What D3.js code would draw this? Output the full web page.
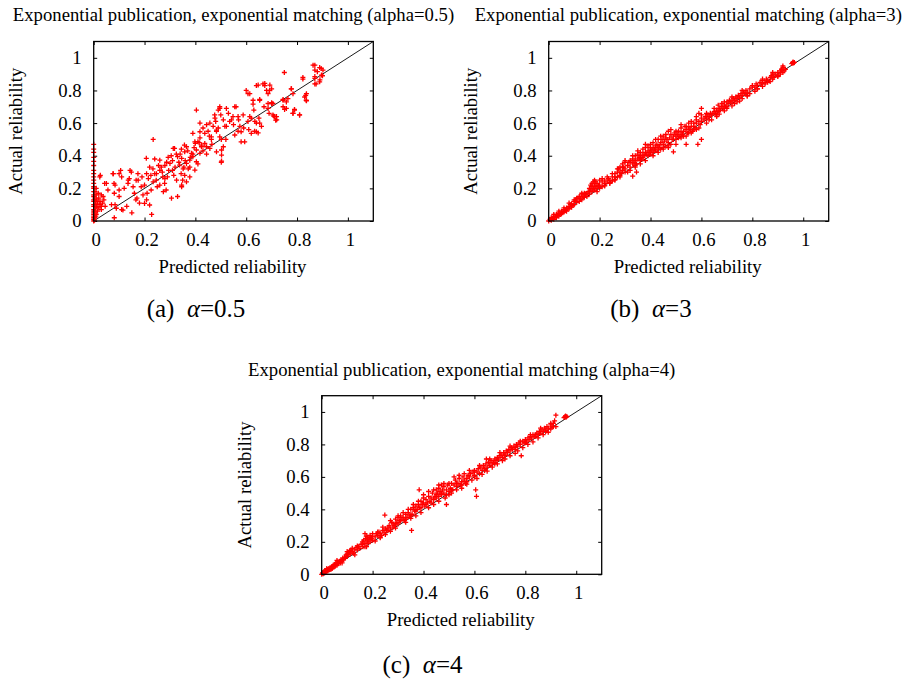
<!DOCTYPE html>
<html><head><meta charset="utf-8">
<script src="https://cdn.jsdelivr.net/npm/d3@7"></script>
<style>
body{margin:0;background:#fff}
text{font-family:"Liberation Serif","Times New Roman",serif;fill:#000}
</style>
</head><body>
<svg id="chart" width="909" height="681"></svg>
<script>
// ---------- data ----------
const tickValues = [0, 0.2, 0.4, 0.6, 0.8, 1];
const tickLabels = ["0", "0.2", "0.4", "0.6", "0.8", "1"];
const axisDomain = [0, 1.1];
const xLabel = "Predicted reliability";
const yLabel = "Actual reliability";
const titles = [
  "Exponential publication, exponential matching (alpha=0.5)",
  "Exponential publication, exponential matching (alpha=3)",
  "Exponential publication, exponential matching (alpha=4)"
];
const captionLetters = ["(a)", "(b)", "(c)"];
const captionValues = ["=0.5", "=3", "=4"];

// [predicted, actual]
const pointsAlpha05 = [
[0,0.47],[0,0.44],[0,0.42],[0,0.39],[0,0.365],[0,0.34],[0,0.31],[0,0.29],[0,0.27],[0,0.25],[0,0.23],[0,0.21],[0,0.2],[0,0.18],[0,0.16],[0,0.15],[0,0.13],[0,0.12],[0,0.1],[0,0.09],[0,0.07],[0,0.06],[0,0.05],[0,0.04],[0,0.03],[0,0.02],[0,0.01],[0,0],
[0.003,0.005],[0.005,0.02],[0.005,0.06],[0.005,0.1],[0.005,0.14],[0.005,0.18],[0.008,0.03],[0.008,0.08],[0.008,0.12],[0.01,0.04],[0.01,0.16],[0.01,0.2],[0.012,0.09],[0.012,0.13],[0.015,0.06],[0.015,0.11],[0.018,0.17],[0.02,0.08],[0.02,0.14],[0.025,0.1],[0.025,0.12],[0.03,0.07],[0.03,0.16],[0.035,0.11],[0.04,0.13],[0.045,0.09],
[0.026,0.28],[0.05,0.23],[0.077,0.29],[0.084,0.22],[0.081,0.17],[0.084,0.10],[0.081,0.02],[0.10,0.29],[0.106,0.31],[0.10,0.15],[0.11,0.07],[0.136,0.25],[0.143,0.31],[0.15,0.05],[0.16,0.17],[0.166,0.13],[0.175,0.25],[0.18,0.11],[0.20,0.22],[0.208,0.29],[0.208,0.13],[0.228,0.04],[0.234,0.50],[0.24,0.38],[0.234,0.24],[0.247,0.29],[0.26,0.31],[0.26,0.22],[0.274,0.18],[0.28,0.26],[0.287,0.36],[0.293,0.39],[0.306,0.14],[0.313,0.445],[0.32,0.33],[0.326,0.25],[0.34,0.41],[0.346,0.22],[0.36,0.37],[0.365,0.455],[0.378,0.33],[0.39,0.41],[0.398,0.485],[0.404,0.68],[0.41,0.35],[0.418,0.51],[0.424,0.455],[0.43,0.57],[0.437,0.475],[0.444,0.41],[0.45,0.55],[0.457,0.60],[0.463,0.50],[0.47,0.58],[0.477,0.63],[0.483,0.55],[0.49,0.68],[0.496,0.70],[0.502,0.36],[0.502,0.50],[0.51,0.455],[0.516,0.58],[0.522,0.69],[0.535,0.61],[0.548,0.64],[0.56,0.70],[0.568,0.55],[0.575,0.58],[0.58,0.485],[0.588,0.65],[0.594,0.485],[0.60,0.80],[0.607,0.78],[0.607,0.61],[0.62,0.63],[0.627,0.74],[0.633,0.55],[0.64,0.83],[0.64,0.60],[0.647,0.54],[0.653,0.74],[0.66,0.58],[0.666,0.84],[0.673,0.83],[0.68,0.80],[0.686,0.69],[0.692,0.80],[0.70,0.72],[0.712,0.64],[0.72,0.62],[0.745,0.74],[0.75,0.91],[0.758,0.69],[0.777,0.81],[0.784,0.66],[0.79,0.68],[0.81,0.65],[0.823,0.87],[0.834,0.77],[0.836,0.74],[0.863,0.955],[0.87,0.885],[0.875,0.84],[0.88,0.915],[0.89,0.865],[0.895,0.935],[0.90,0.89],
[0.024,0.27],[0.043,0.23],[0.076,0.29],[0.11,0.27],[0.08,0.23],[0.10,0.19],[0.056,0.19],[0.037,0.15],[0.03,0.09],[0.07,0.10],[0.089,0.078],[0.115,0.067],[0.135,0.23],[0.14,0.26],[0.148,0.30],[0.167,0.25],[0.174,0.29],[0.187,0.21],[0.194,0.16],[0.20,0.108],[0.207,0.384],[0.22,0.33],[0.233,0.32],[0.24,0.29],[0.246,0.25],[0.226,0.19],[0.22,0.098],[0.26,0.373],[0.266,0.33],[0.272,0.27],[0.279,0.23],[0.285,0.19],[0.305,0.40],[0.30,0.353],[0.31,0.31],[0.318,0.445],[0.33,0.394],[0.338,0.343],[0.344,0.29],[0.35,0.25],[0.357,0.465],[0.33,0.15],[0.29,0.27],
[0.476,0.65],[0.50,0.65],[0.418,0.60],[0.444,0.59],[0.483,0.557],[0.51,0.62],[0.522,0.58],[0.542,0.62],[0.568,0.64],[0.614,0.64],[0.634,0.61],[0.653,0.60],[0.64,0.547],[0.62,0.537],[0.58,0.547],[0.555,0.527],[0.496,0.516],[0.463,0.516],[0.437,0.537],[0.418,0.547],[0.39,0.537],[0.41,0.486],[0.40,0.476],[0.424,0.465],[0.444,0.455],[0.457,0.445],[0.483,0.424],[0.503,0.435],[0.503,0.404],[0.503,0.367],[0.358,0.424],[0.385,0.415],[0.404,0.435],[0.39,0.394],[0.378,0.373],[0.404,0.363],[0.365,0.353],[0.346,0.384],[0.352,0.32],[0.372,0.32],[0.398,0.312],[0.358,0.28],[0.378,0.27],[0.365,0.24],[0.346,0.21],[0.418,0.415],[0.555,0.70],[0.627,0.716],[0.686,0.72],[0.705,0.72],[0.719,0.64],[0.705,0.65],
[0.823,0.88],[0.87,0.955],[0.889,0.94],[0.902,0.925],[0.87,0.925],[0.896,0.894],[0.87,0.874],[0.889,0.853],[0.87,0.84],[0.693,0.833],[0.70,0.81],[0.778,0.81],[0.784,0.78],[0.837,0.78],[0.83,0.76],[0.837,0.737],[0.745,0.745],[0.764,0.75],[0.758,0.73],[0.70,0.725],[0.745,0.70],[0.751,0.684],[0.79,0.684],[0.784,0.66],[0.81,0.65],[0.708,0.643],[0.716,0.618],
[0.614,0.78],[0.647,0.833],[0.673,0.843],[0.686,0.78],[0.653,0.745],[0.496,0.69],
[0.12,0.2],[0.13,0.09],[0.155,0.21],[0.17,0.14],[0.19,0.27],[0.21,0.17],[0.215,0.26],[0.225,0.28],[0.25,0.21],[0.255,0.34],[0.27,0.3],[0.28,0.34],[0.295,0.31],[0.31,0.37],[0.315,0.28],[0.325,0.41],[0.335,0.36],[0.345,0.44],[0.355,0.33],[0.37,0.43],[0.38,0.39],[0.395,0.45],[0.415,0.48],[0.43,0.43],[0.455,0.52],[0.465,0.47],[0.48,0.61],[0.49,0.57],[0.52,0.5],[0.53,0.66],[0.55,0.59],[0.57,0.62],[0.59,0.57],[0.61,0.56],[0.63,0.68],[0.65,0.63],[0.67,0.7],[0.69,0.66]
];

const pointsAlpha3 = [
[0,0],[0.005,0.01],[0.01,0.02],[0.01,0.005],[0.015,0.015],[0.02,0.03],[0.02,0.01],[0.025,0.025],[0.03,0.04],[0.03,0.02],[0.035,0.035],[0.04,0.05],[0.04,0.03],[0.045,0.04],[0.05,0.06],[0.05,0.045],[0.055,0.05],[0.06,0.07],[0.06,0.055],[0.065,0.065],[0.07,0.08],[0.07,0.06],[0.075,0.075],[0.08,0.09],[0.08,0.075],[0.085,0.1],[0.09,0.085],[0.09,0.105],[0.095,0.095],[0.1,0.12],[0.1,0.1],
[0.105,0.13],[0.11,0.115],[0.115,0.14],[0.12,0.15],[0.12,0.12],[0.125,0.135],[0.13,0.16],[0.13,0.13],[0.135,0.15],[0.14,0.145],[0.145,0.165],[0.15,0.17],[0.15,0.15],[0.155,0.18],[0.16,0.2],[0.16,0.165],[0.165,0.19],[0.17,0.21],[0.17,0.18],[0.175,0.2],[0.18,0.22],[0.18,0.19],[0.185,0.21],[0.19,0.2],[0.19,0.23],[0.195,0.215],[0.2,0.22],[0.2,0.2],[0.18,0.25],[0.175,0.24],
[0.21,0.24],[0.21,0.21],[0.22,0.23],[0.22,0.25],[0.23,0.24],[0.235,0.26],[0.24,0.25],[0.25,0.27],[0.25,0.245],[0.26,0.27],[0.26,0.29],[0.27,0.3],[0.27,0.27],[0.275,0.32],[0.28,0.3],[0.28,0.33],[0.285,0.29],[0.29,0.31],[0.29,0.35],[0.295,0.33],[0.3,0.32],[0.3,0.36],[0.3,0.3],[0.33,0.275],[0.345,0.3],
[0.31,0.34],[0.315,0.36],[0.32,0.33],[0.32,0.37],[0.33,0.35],[0.33,0.38],[0.335,0.36],[0.34,0.37],[0.34,0.4],[0.345,0.35],[0.35,0.38],[0.35,0.41],[0.355,0.39],[0.36,0.4],[0.36,0.42],[0.365,0.38],[0.37,0.41],[0.37,0.44],[0.375,0.4],[0.38,0.42],[0.38,0.45],[0.385,0.41],[0.39,0.43],[0.39,0.46],[0.395,0.42],[0.4,0.44],[0.4,0.41],[0.4,0.47],
[0.405,0.43],[0.41,0.45],[0.41,0.48],[0.415,0.44],[0.42,0.46],[0.42,0.43],[0.425,0.47],[0.43,0.45],[0.43,0.5],[0.435,0.46],[0.44,0.48],[0.44,0.44],[0.445,0.5],[0.45,0.47],[0.45,0.52],[0.455,0.49],[0.46,0.46],[0.46,0.53],[0.465,0.5],[0.47,0.48],[0.47,0.55],[0.475,0.51],[0.48,0.47],[0.48,0.53],[0.485,0.5],[0.49,0.52],[0.49,0.424],[0.495,0.54],[0.5,0.5],[0.5,0.52],[0.5,0.47],
[0.505,0.53],[0.51,0.55],[0.515,0.52],[0.52,0.54],[0.52,0.57],[0.525,0.53],[0.53,0.55],[0.535,0.58],[0.54,0.47],[0.54,0.56],[0.545,0.54],[0.55,0.57],[0.55,0.6],[0.555,0.56],[0.56,0.58],[0.565,0.55],[0.57,0.6],[0.57,0.58],[0.575,0.57],[0.58,0.6],[0.58,0.62],[0.586,0.47],[0.59,0.61],[0.595,0.59],[0.6,0.63],[0.6,0.61],[0.6,0.5],[0.6,0.69],[0.59,0.66],
[0.61,0.62],[0.615,0.64],[0.62,0.63],[0.625,0.65],[0.63,0.64],[0.635,0.66],[0.64,0.65],[0.645,0.66],[0.65,0.67],[0.655,0.66],[0.66,0.68],[0.665,0.67],[0.666,0.71],[0.67,0.69],[0.675,0.68],[0.68,0.7],[0.685,0.69],[0.69,0.73],[0.69,0.71],[0.695,0.7],[0.7,0.73],
[0.705,0.72],[0.71,0.74],[0.715,0.73],[0.72,0.73],[0.725,0.75],[0.73,0.74],[0.735,0.76],[0.74,0.75],[0.745,0.77],[0.75,0.76],[0.755,0.78],[0.76,0.77],[0.765,0.79],[0.77,0.78],[0.775,0.8],[0.78,0.79],[0.79,0.81],[0.8,0.82],
[0.81,0.82],[0.815,0.84],[0.82,0.83],[0.83,0.85],[0.835,0.84],[0.84,0.86],[0.85,0.85],[0.855,0.87],[0.86,0.86],[0.87,0.88],[0.875,0.89],[0.88,0.9],[0.885,0.88],[0.89,0.9],[0.9,0.91],
[0.91,0.92],[0.915,0.93],[0.92,0.91],[0.92,0.94],[0.925,0.92],[0.955,0.965],[0.958,0.97],[0.96,0.975],[0.962,0.968],[0.965,0.972],
[0.02,0.04],[0.04,0.06],[0.06,0.08],[0.08,0.11],[0.1,0.13],[0.11,0.14],[0.13,0.17],[0.14,0.17],[0.16,0.18],[0.165,0.22],[0.17,0.23],[0.185,0.24],[0.19,0.18],[0.2,0.25],[0.21,0.26],[0.22,0.22],[0.23,0.27],[0.24,0.23],[0.25,0.29],[0.26,0.25],[0.27,0.32],[0.28,0.28],[0.29,0.33],[0.3,0.37],[0.31,0.3],[0.32,0.36],[0.33,0.4],[0.34,0.34],[0.35,0.43],[0.36,0.37],[0.37,0.39],[0.38,0.47],[0.39,0.4],[0.4,0.45],[0.41,0.42],[0.42,0.5],[0.43,0.44],[0.44,0.52],[0.45,0.45],[0.46,0.51],[0.47,0.46],[0.48,0.56],[0.49,0.5],[0.5,0.55],[0.51,0.51],[0.52,0.59],[0.53,0.52],[0.54,0.58],[0.55,0.54],[0.56,0.61],[0.57,0.56],[0.58,0.64],[0.59,0.57],[0.6,0.65],[0.62,0.66],[0.63,0.62],[0.65,0.69],[0.66,0.65],[0.68,0.72],[0.7,0.7],[0.72,0.76],[0.74,0.73],[0.76,0.8],[0.78,0.77],[0.8,0.83],[0.82,0.81],[0.84,0.87],[0.86,0.85],[0.88,0.91],[0.9,0.89],[0.92,0.95],[0.93,0.93],
[0.62,0.6],[0.64,0.62],[0.66,0.64],[0.67,0.655],[0.69,0.675],[0.7,0.69],[0.72,0.705],[0.73,0.72],[0.75,0.735],[0.76,0.75],[0.78,0.765],[0.79,0.78],[0.81,0.795],[0.82,0.81],[0.84,0.825],[0.85,0.84],[0.87,0.855],[0.88,0.87],[0.9,0.885],[0.91,0.9],[0.52,0.51],[0.54,0.52],[0.56,0.54],[0.58,0.56],[0.47,0.45],[0.45,0.44],[0.43,0.42],[0.41,0.4],[0.38,0.37],[0.36,0.35],[0.34,0.33],[0.32,0.31],[0.28,0.27],[0.26,0.255],[0.24,0.235],[0.22,0.215]
];

const pointsAlpha4 = [
[0,0],[0.003,0.008],[0.006,0.004],[0.008,0.015],[0.01,0.01],[0.012,0.022],[0.015,0.012],[0.018,0.025],[0.02,0.018],[0.022,0.03],[0.025,0.022],[0.028,0.035],[0.03,0.028],[0.033,0.04],[0.036,0.03],[0.04,0.048],[0.042,0.038],[0.045,0.055],[0.048,0.045],[0.05,0.06],[0.053,0.05],[0.056,0.068],[0.06,0.055],[0.062,0.075],[0.066,0.065],[0.07,0.08],[0.073,0.07],[0.076,0.09],[0.08,0.085],[0.083,0.1],[0.086,0.09],[0.09,0.105],[0.093,0.1],[0.096,0.12],[0.1,0.11],[0.1,0.14],[0.104,0.12],[0.108,0.135],[0.112,0.125],[0.115,0.15],[0.12,0.14],[0.12,0.16],[0.125,0.13],[0.13,0.15],[0.135,0.165],[0.14,0.15],[0.145,0.17],[0.15,0.16],[0.155,0.185],[0.16,0.2],[0.162,0.17],[0.165,0.21],[0.17,0.19],[0.17,0.25],[0.172,0.22],[0.176,0.17],[0.178,0.2],[0.18,0.23],[0.182,0.19],[0.185,0.215],[0.19,0.2],[0.19,0.24],[0.195,0.22],[0.2,0.21],[0.2,0.235],
[0.21,0.23],[0.215,0.25],[0.22,0.24],[0.225,0.26],[0.23,0.25],[0.235,0.24],[0.24,0.27],[0.245,0.26],[0.248,0.365],[0.25,0.28],[0.255,0.27],[0.26,0.29],[0.265,0.3],[0.27,0.28],[0.275,0.32],[0.28,0.31],[0.285,0.3],[0.29,0.34],[0.295,0.32],[0.3,0.35],[0.3,0.31],
[0.305,0.33],[0.31,0.36],[0.315,0.34],[0.32,0.35],[0.325,0.33],[0.33,0.37],[0.335,0.35],[0.34,0.38],[0.345,0.36],[0.35,0.4],[0.353,0.27],[0.355,0.37],[0.36,0.41],[0.365,0.39],[0.37,0.42],[0.375,0.4],[0.38,0.43],[0.383,0.52],[0.385,0.41],[0.39,0.45],[0.395,0.43],[0.4,0.44],[0.4,0.47],
[0.405,0.42],[0.41,0.46],[0.415,0.44],[0.42,0.48],[0.425,0.45],[0.43,0.47],[0.435,0.5],[0.44,0.46],[0.445,0.48],[0.45,0.52],[0.45,0.47],[0.455,0.5],[0.46,0.53],[0.46,0.48],[0.465,0.51],[0.47,0.55],[0.47,0.49],[0.475,0.52],[0.48,0.5],[0.48,0.54],[0.485,0.47],[0.49,0.52],[0.49,0.43],[0.495,0.55],[0.5,0.51],[0.5,0.49],
[0.505,0.53],[0.51,0.56],[0.515,0.52],[0.52,0.55],[0.525,0.58],[0.53,0.54],[0.535,0.56],[0.54,0.59],[0.545,0.55],[0.55,0.57],[0.555,0.6],[0.56,0.58],[0.565,0.56],[0.57,0.59],[0.575,0.61],[0.58,0.6],[0.585,0.62],[0.59,0.58],[0.595,0.63],[0.6,0.61],[0.6,0.64],[0.608,0.48],[0.605,0.52],
[0.61,0.63],[0.615,0.65],[0.62,0.62],[0.625,0.66],[0.63,0.64],[0.635,0.67],[0.64,0.65],[0.645,0.68],[0.647,0.71],[0.65,0.66],[0.655,0.69],[0.66,0.67],[0.665,0.7],[0.67,0.68],[0.675,0.69],[0.68,0.71],[0.685,0.7],[0.69,0.72],[0.695,0.71],[0.7,0.73],
[0.705,0.74],[0.71,0.72],[0.715,0.75],[0.72,0.74],[0.725,0.76],[0.73,0.75],[0.735,0.77],[0.74,0.76],[0.745,0.78],[0.75,0.77],[0.755,0.79],[0.76,0.78],[0.765,0.8],[0.77,0.79],[0.775,0.81],[0.78,0.8],[0.784,0.73],[0.79,0.82],[0.795,0.81],[0.8,0.83],
[0.805,0.82],[0.81,0.84],[0.815,0.83],[0.82,0.85],[0.825,0.84],[0.83,0.86],[0.835,0.85],[0.84,0.86],[0.845,0.87],[0.85,0.86],[0.855,0.88],[0.86,0.87],[0.865,0.89],[0.87,0.88],[0.875,0.9],[0.88,0.89],[0.885,0.91],[0.89,0.9],[0.9,0.92],[0.905,0.91],[0.91,0.93],[0.915,0.945],[0.92,0.98],
[0.952,0.965],[0.955,0.97],[0.958,0.975],[0.96,0.968],[0.963,0.972],
[0.02,0.035],[0.04,0.035],[0.06,0.085],[0.08,0.07],[0.1,0.125],[0.11,0.145],[0.13,0.12],[0.14,0.175],[0.16,0.185],[0.17,0.17],[0.175,0.235],[0.18,0.21],[0.19,0.225],[0.2,0.25],[0.22,0.26],[0.23,0.23],[0.24,0.29],[0.26,0.27],[0.27,0.33],[0.28,0.29],[0.29,0.31],[0.3,0.36],[0.31,0.33],[0.32,0.38],[0.33,0.34],[0.34,0.4],[0.35,0.36],[0.36,0.43],[0.37,0.39],[0.38,0.45],[0.39,0.41],[0.4,0.49],[0.41,0.43],[0.42,0.51],[0.43,0.44],[0.44,0.52],[0.45,0.49],[0.46,0.55],[0.47,0.5],[0.48,0.56],[0.49,0.49],[0.5,0.56],[0.51,0.52],[0.52,0.6],[0.53,0.56],[0.54,0.61],[0.55,0.55],[0.56,0.62],[0.57,0.57],[0.58,0.64],[0.6,0.6],[0.62,0.67],[0.64,0.64],[0.66,0.71],[0.68,0.68],[0.7,0.75],[0.72,0.73],[0.74,0.79],[0.76,0.77],[0.78,0.82],[0.8,0.81],[0.82,0.86],[0.84,0.85],[0.86,0.9],[0.88,0.88],[0.9,0.93],[0.91,0.91],
[0.61,0.59],[0.63,0.615],[0.65,0.635],[0.67,0.66],[0.69,0.68],[0.71,0.7],[0.72,0.71],[0.74,0.73],[0.76,0.745],[0.77,0.76],[0.79,0.78],[0.81,0.8],[0.83,0.815],[0.85,0.84],[0.87,0.86],[0.89,0.875],[0.9,0.895],[0.92,0.91],[0.55,0.53],[0.53,0.52],[0.57,0.555],[0.51,0.5],[0.46,0.45],[0.44,0.43],[0.42,0.41],[0.39,0.38],[0.37,0.36],[0.35,0.345],[0.33,0.32],[0.29,0.285],[0.27,0.265],[0.25,0.245],[0.23,0.225],[0.21,0.205]
];

const panelData = [pointsAlpha05, pointsAlpha3, pointsAlpha4];

// ---------- layout ----------
const layouts = [
  {l: 93.7, r: 373.3, t: 41.5, b: 221, titleX: 233.5, titleY: 21, yLabX: 22, capX: 196, capY: 317},
  {l: 548.7, r: 828.7, t: 41.5, b: 221, titleX: 688.3, titleY: 21, yLabX: 477, capX: 651, capY: 317},
  {l: 321.7, r: 601.7, t: 395.7, b: 574.3, titleX: 461.7, titleY: 375.5, yLabX: 251, capX: 422.5, capY: 672.5}
];

const svg = d3.select("#chart");
const fs = 18.7;
const tick = 3.5;

layouts.forEach((L, i) => {
  const x = d3.scaleLinear().domain(axisDomain).range([L.l, L.r]);
  const y = d3.scaleLinear().domain(axisDomain).range([L.b, L.t]);
  const g = svg.append("g");
  const fmt = (d) => tickLabels[tickValues.indexOf(d)];

  g.append("text").attr("x", L.titleX).attr("y", L.titleY)
    .attr("text-anchor", "middle").style("font-size", fs + "px").text(titles[i]);

  const bottom = g.append("g").attr("transform", `translate(0,${L.b})`)
    .call(d3.axisBottom(x).tickValues(tickValues).tickFormat(fmt).tickSizeInner(-tick).tickSizeOuter(0).tickPadding(11.5));
  const left = g.append("g").attr("transform", `translate(${L.l},0)`)
    .call(d3.axisLeft(y).tickValues(tickValues).tickFormat(fmt).tickSizeInner(-tick).tickSizeOuter(0).tickPadding(12));
  const top = g.append("g").attr("transform", `translate(0,${L.t})`)
    .call(d3.axisTop(x).tickValues(tickValues).tickFormat("").tickSizeInner(-tick).tickSizeOuter(0));
  const right = g.append("g").attr("transform", `translate(${L.r},0)`)
    .call(d3.axisRight(y).tickValues(tickValues).tickFormat("").tickSizeInner(-tick).tickSizeOuter(0));
  [bottom, left, top, right].forEach(a => {
    a.select(".domain").remove();
    a.selectAll("line").attr("stroke", "#000").attr("stroke-width", 1);
    a.selectAll("text").style("font-size", fs + "px").style("font-family", '"Liberation Serif",serif').attr("fill", "#000");
  });
  bottom.selectAll("text").attr("dx", 2);

  g.append("line")
    .attr("x1", x(0)).attr("y1", y(0)).attr("x2", x(1.1)).attr("y2", y(1.1))
    .attr("stroke", "#000").attr("stroke-width", 0.9);

  g.append("g").selectAll("path").data(panelData[i]).join("path")
    .attr("transform", d => `translate(${x(d[0])},${y(d[1])})`)
    .attr("d", "M-2.5,0H2.5M0,-2.5V2.5")
    .attr("stroke", "#ff0000").attr("stroke-width", 1.3).attr("fill", "none");

  g.append("rect").attr("x", L.l).attr("y", L.t).attr("width", L.r - L.l).attr("height", L.b - L.t)
    .attr("fill", "none").attr("stroke", "#000").attr("stroke-width", 1.3);

  g.append("text").attr("x", (L.l + L.r) / 2 - 1).attr("y", L.b + 52)
    .attr("text-anchor", "middle").style("font-size", fs + "px").text(xLabel);
  g.append("text").attr("transform", `translate(${L.yLabX},${(L.t + L.b) / 2}) rotate(-90)`)
    .attr("text-anchor", "middle").style("font-size", fs + "px").text(yLabel);

  const cap = g.append("text").attr("x", L.capX).attr("y", L.capY)
    .attr("text-anchor", "middle").style("font-size", "25px");
  cap.append("tspan").text(captionLetters[i] + "\u00A0\u00A0");
  cap.append("tspan").style("font-style", "italic").text("\u03B1");
  cap.append("tspan").text(captionValues[i]);
});
</script>
</body></html>
